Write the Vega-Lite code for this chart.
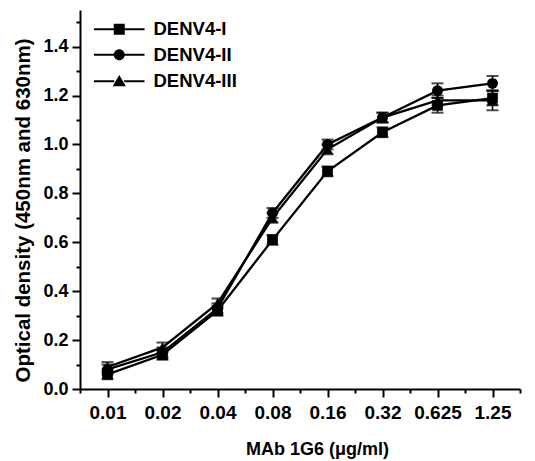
{
  "$schema": "https://vega.github.io/schema/vega-lite/v6.json",
  "width": 440,
  "height": 379,
  "padding": {"left": 13, "top": 10, "right": 10, "bottom": 5},
  "config": {
    "view": {"stroke": null},
    "font": "Liberation Sans",
    "axis": {
      "grid": false,
      "domainColor": "black",
      "domainWidth": 2,
      "tickColor": "black",
      "tickWidth": 2,
      "labelFont": "Liberation Sans",
      "labelFontWeight": "bold",
      "labelColor": "black",
      "titleFont": "Liberation Sans",
      "titleFontWeight": "bold",
      "titleColor": "black"
    }
  },
  "data": {
    "values": [
      {"conc": "0.01", "i": 0, "series": "DENV4-I", "od": 0.06, "err": 0.02},
      {"conc": "0.02", "i": 1, "series": "DENV4-I", "od": 0.14, "err": 0.02},
      {"conc": "0.04", "i": 2, "series": "DENV4-I", "od": 0.32, "err": 0.02},
      {"conc": "0.08", "i": 3, "series": "DENV4-I", "od": 0.61, "err": 0.02},
      {"conc": "0.16", "i": 4, "series": "DENV4-I", "od": 0.89, "err": 0.02},
      {"conc": "0.32", "i": 5, "series": "DENV4-I", "od": 1.05, "err": 0.02},
      {"conc": "0.625", "i": 6, "series": "DENV4-I", "od": 1.16, "err": 0.03},
      {"conc": "1.25", "i": 7, "series": "DENV4-I", "od": 1.19, "err": 0.03},
      {"conc": "0.01", "i": 0, "series": "DENV4-II", "od": 0.08, "err": 0.02},
      {"conc": "0.02", "i": 1, "series": "DENV4-II", "od": 0.15, "err": 0.02},
      {"conc": "0.04", "i": 2, "series": "DENV4-II", "od": 0.33, "err": 0.02},
      {"conc": "0.08", "i": 3, "series": "DENV4-II", "od": 0.72, "err": 0.02},
      {"conc": "0.16", "i": 4, "series": "DENV4-II", "od": 1.0, "err": 0.02},
      {"conc": "0.32", "i": 5, "series": "DENV4-II", "od": 1.11, "err": 0.02},
      {"conc": "0.625", "i": 6, "series": "DENV4-II", "od": 1.22, "err": 0.03},
      {"conc": "1.25", "i": 7, "series": "DENV4-II", "od": 1.25, "err": 0.03},
      {"conc": "0.01", "i": 0, "series": "DENV4-III", "od": 0.09, "err": 0.02},
      {"conc": "0.02", "i": 1, "series": "DENV4-III", "od": 0.17, "err": 0.02},
      {"conc": "0.04", "i": 2, "series": "DENV4-III", "od": 0.35, "err": 0.02},
      {"conc": "0.08", "i": 3, "series": "DENV4-III", "od": 0.7, "err": 0.02},
      {"conc": "0.16", "i": 4, "series": "DENV4-III", "od": 0.98, "err": 0.02},
      {"conc": "0.32", "i": 5, "series": "DENV4-III", "od": 1.11, "err": 0.02},
      {"conc": "0.625", "i": 6, "series": "DENV4-III", "od": 1.18, "err": 0.02},
      {"conc": "1.25", "i": 7, "series": "DENV4-III", "od": 1.18, "err": 0.04}
    ]
  },
  "encoding": {
    "x": {
      "field": "i",
      "type": "quantitative",
      "scale": {"domain": [-0.5, 7.5], "nice": false, "zero": false},
      "axis": {
        "values": [-0.5, 0, 0.5, 1, 1.5, 2, 2.5, 3, 3.5, 4, 4.5, 5, 5.5, 6, 6.5, 7, 7.5],
        "labelExpr": "datum.value % 1 === 0 ? ['0.01','0.02','0.04','0.08','0.16','0.32','0.625','1.25'][datum.value] : ''",
        "tickSize": {"condition": {"test": "datum.value % 1 === 0", "value": 8}, "value": 4},
        "title": "MAb 1G6 (μg/ml)",
        "titleFontSize": 18,
        "titleX": 237,
        "labelFontSize": 19,
        "labelPadding": 6,
        "titlePadding": 18,
        "labelFlush": false,
        "labelOverlap": false
      }
    },
    "y": {
      "field": "od",
      "type": "quantitative",
      "scale": {"domain": [0, 1.55], "nice": false},
      "axis": {
        "values": [0, 0.1, 0.2, 0.3, 0.4, 0.5, 0.6, 0.7, 0.8, 0.9, 1.0, 1.1, 1.2, 1.3, 1.4, 1.5],
        "labelExpr": "round(datum.value*10) % 2 === 0 ? format(datum.value, '.1f') : ''",
        "tickSize": {"condition": {"test": "round(datum.value*10) % 2 === 0", "value": 8}, "value": 4},
        "title": "Optical density (450nm and 630nm)",
        "titleFontSize": 20.5,
        "titleY": 200,
        "labelFontSize": 18,
        "labelPadding": 4,
        "titlePadding": 9,
        "labelOverlap": false
      }
    }
  },
  "layer": [
    {
      "mark": {
        "type": "errorbar",
        "ticks": {"size": 12, "color": "black", "thickness": 2},
        "rule": {"color": "black", "strokeWidth": 1.5}
      },
      "encoding": {
        "yError": {"field": "err"},
        "detail": {"field": "series"}
      }
    },
    {
      "mark": {"type": "line", "color": "black", "strokeWidth": 2.3},
      "encoding": {"detail": {"field": "series", "type": "nominal"}}
    },
    {
      "transform": [{"filter": "datum.series === 'DENV4-I'"}],
      "mark": {"type": "point", "shape": "square", "filled": true, "color": "black", "opacity": 1, "size": 115}
    },
    {
      "transform": [{"filter": "datum.series === 'DENV4-II'"}],
      "mark": {"type": "point", "shape": "circle", "filled": true, "color": "black", "opacity": 1, "size": 120}
    },
    {
      "transform": [{"filter": "datum.series === 'DENV4-III'"}],
      "mark": {"type": "point", "shape": "triangle-up", "filled": true, "color": "black", "opacity": 1, "size": 130}
    },
    {
      "mark": {"type": "point", "filled": true, "color": "black", "opacity": 0},
      "encoding": {
        "shape": {
          "field": "series",
          "type": "nominal",
          "scale": {
            "domain": ["DENV4-I", "DENV4-II", "DENV4-III"],
            "range": [
              "M-4.6,-0.2H-0.9V0.2H-4.6Z M0.9,-0.2H4.6V0.2H0.9Z M-1,-1H1V1H-1Z",
              "M-4.6,-0.2H-0.9V0.2H-4.6Z M0.9,-0.2H4.6V0.2H0.9Z M1,0A1,1,0,1,1,-1,0A1,1,0,1,1,1,0Z",
              "M-4.6,-0.2H-0.9V0.2H-4.6Z M0.9,-0.2H4.6V0.2H0.9Z M0,-1.15L1.2,0.9H-1.2Z"
            ]
          },
          "legend": {
            "title": null,
            "orient": "none",
            "legendX": 30,
            "legendY": 10,
            "padding": 0,
            "symbolSize": 121,
            "symbolFillColor": "black",
            "symbolStrokeColor": "black",
            "symbolStrokeWidth": 1.5,
            "labelFont": "Liberation Sans",
            "labelFontWeight": "bold",
            "labelFontSize": 18.5,
            "labelColor": "black",
            "labelOffset": 25,
            "rowPadding": 6.5,
            "encode": {
              "symbols": {
                "update": {
                  "opacity": {"value": 1},
                  "fill": {"value": "black"},
                  "stroke": {"value": "black"},
                  "strokeWidth": {"value": 1.5}
                }
              }
            }
          }
        }
      }
    }
  ]
}
